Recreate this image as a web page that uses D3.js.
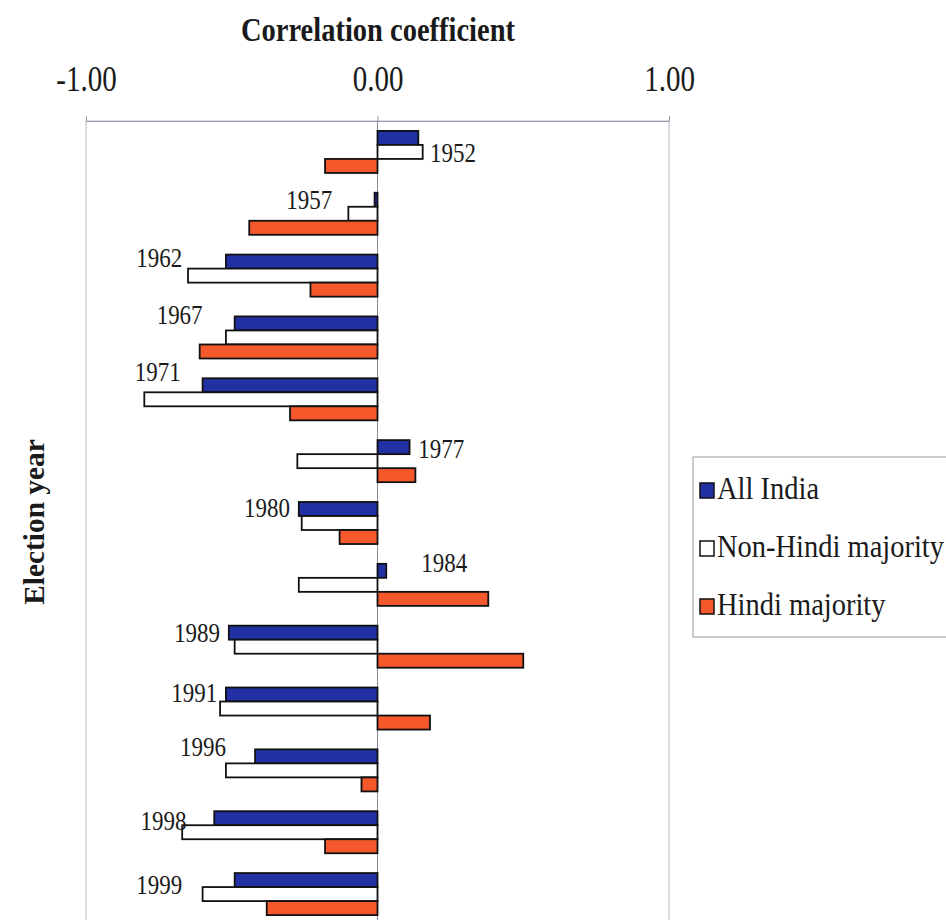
<!DOCTYPE html>
<html>
<head>
<meta charset="utf-8">
<script src="https://cdn.jsdelivr.net/npm/d3@7/dist/d3.min.js"></script>
<style>
  html, body { margin: 0; padding: 0; background: #fff; }
  svg { display: block; }
</style>
</head>
<body>
<svg id="chart" width="946" height="920"></svg>
<script>
// Election years (categories, top to bottom)
const years = ["1952","1957","1962","1967","1971","1977","1980","1984","1989","1991","1996","1998","1999"];

// Correlation coefficients per series
const allIndia    = [0.14, -0.01, -0.52, -0.49, -0.60, 0.11, -0.27, 0.03, -0.51, -0.52, -0.42, -0.56, -0.49];
const nonHindi    = [0.155, -0.10, -0.65, -0.52, -0.80, -0.275, -0.26, -0.27, -0.49, -0.54, -0.52, -0.67, -0.60];
const hindi       = [-0.18, -0.44, -0.23, -0.61, -0.30, 0.13, -0.13, 0.38, 0.50, 0.18, -0.055, -0.18, -0.38];

const seriesNames = ["All India", "Non-Hindi majority", "Hindi majority"];
const tickValues  = [-1, 0, 1];

// Year label placement: [x in correlation units, text anchor, vertical shift in px relative to the first bar]
const yearLabelPlacement = [
  [0.18, "start", 15], [-0.155, "end", 0], [-0.67, "end", -4], [-0.60, "end", -8],
  [-0.675, "end", -13], [0.14, "start", 2], [-0.30, "end", -1], [0.15, "start", -8],
  [-0.54, "end", 0], [-0.55, "end", -2], [-0.52, "end", -9], [-0.655, "end", 3], [-0.67, "end", 5]
];

const series = [allIndia, nonHindi, hindi];
const fills  = ["#2131a3", "#ffffff", "#f4582b"];
const FONT = "'Liberation Serif', 'Times New Roman', serif";
const INK = "#1a1a1a";

const svg = d3.select("#chart");

const plotTop = 121, plotBottom = 925;
const x = d3.scaleLinear().domain([-1, 1]).range([86, 669]);
const y = d3.scaleBand().domain(years).range([plotTop, plotBottom]).paddingInner(0.32).paddingOuter(0.16);
const ySub = d3.scaleBand().domain(d3.range(series.length)).range([0, y.bandwidth()]);

// Place a text at (px, py) with a tall, narrow glyph shape
function tallText(sel, px, py, sy) {
  return sel.attr("x", 0).attr("y", 0)
    .attr("transform", `translate(${px},${py}) scale(1,${sy})`);
}

// Plot area frame
svg.append("rect")
  .attr("x", x(-1)).attr("y", plotTop)
  .attr("width", x(1) - x(-1)).attr("height", plotBottom - plotTop)
  .attr("fill", "none").attr("stroke", "#b8b8c4").attr("stroke-width", 1);

// Top value axis
const fmt = v => v.toFixed(2);
const xAxis = d3.axisTop(x).tickValues(tickValues).tickSize(5).tickFormat(fmt);
const gx = svg.append("g").attr("transform", `translate(0,${plotTop})`).call(xAxis)
  .attr("font-family", FONT).attr("font-size", 29);
gx.select(".domain").attr("stroke", "#9a9aa8");
gx.selectAll(".tick line").attr("stroke", "#9a9aa8");
gx.selectAll(".tick text")
  .attr("dy", null)
  .attr("fill", INK)
  .each(function() { tallText(d3.select(this), 0, -30, 1.25); });

// Zero (category) axis line
svg.append("line")
  .attr("x1", x(0)).attr("x2", x(0))
  .attr("y1", plotTop).attr("y2", plotBottom)
  .attr("stroke", "#8a8a96").attr("stroke-width", 1);

// Bars
const groups = svg.append("g").selectAll("g")
  .data(years)
  .join("g")
  .attr("transform", d => `translate(0,${y(d)})`);

groups.selectAll("rect")
  .data((d, i) => series.map((s, k) => ({ k, v: s[i] })))
  .join("rect")
  .attr("x", d => x(Math.min(0, d.v)))
  .attr("y", d => ySub(d.k))
  .attr("width", d => Math.abs(x(d.v) - x(0)))
  .attr("height", ySub.bandwidth())
  .attr("fill", d => fills[d.k])
  .attr("stroke", "#111")
  .attr("stroke-width", 1.8);

// Year labels
groups.append("text")
  .attr("text-anchor", (d, i) => yearLabelPlacement[i][1])
  .attr("font-family", FONT)
  .attr("font-size", 23)
  .attr("fill", INK)
  .text(d => d)
  .each(function(d, i) {
    const p = yearLabelPlacement[i];
    tallText(d3.select(this), x(p[0]), ySub(0) + ySub.bandwidth() / 2 + p[2] + 9, 1.15);
  });

// Axis titles
tallText(svg.append("text"), 378, 41, 1.15)
  .attr("text-anchor", "middle")
  .attr("font-family", FONT).attr("font-size", 28.5).attr("font-weight", "bold")
  .attr("fill", INK)
  .text("Correlation coefficient");

svg.append("text")
  .attr("transform", "translate(44,522) rotate(-90) scale(1.05,1.05)")
  .attr("text-anchor", "middle")
  .attr("font-family", FONT).attr("font-size", 28).attr("font-weight", "bold")
  .attr("fill", INK)
  .text("Election year");

// Legend
const legend = svg.append("g").attr("transform", "translate(693,457)");
legend.append("rect")
  .attr("width", 260).attr("height", 180)
  .attr("fill", "#fff").attr("stroke", "#9a9aa8").attr("stroke-width", 1);
const items = legend.selectAll("g.item")
  .data(seriesNames)
  .join("g").attr("class", "item")
  .attr("transform", (d, i) => `translate(7,${33 + i * 58})`);
items.append("rect")
  .attr("x", 0).attr("y", -7).attr("width", 14).attr("height", 15)
  .attr("fill", (d, i) => fills[i]).attr("stroke", "#111").attr("stroke-width", 1.5);
items.append("text")
  .attr("font-family", FONT).attr("font-size", 28.5)
  .attr("fill", INK)
  .text(d => d)
  .each(function() { tallText(d3.select(this), 17, 9, 1.1); });
</script>
</body>
</html>
